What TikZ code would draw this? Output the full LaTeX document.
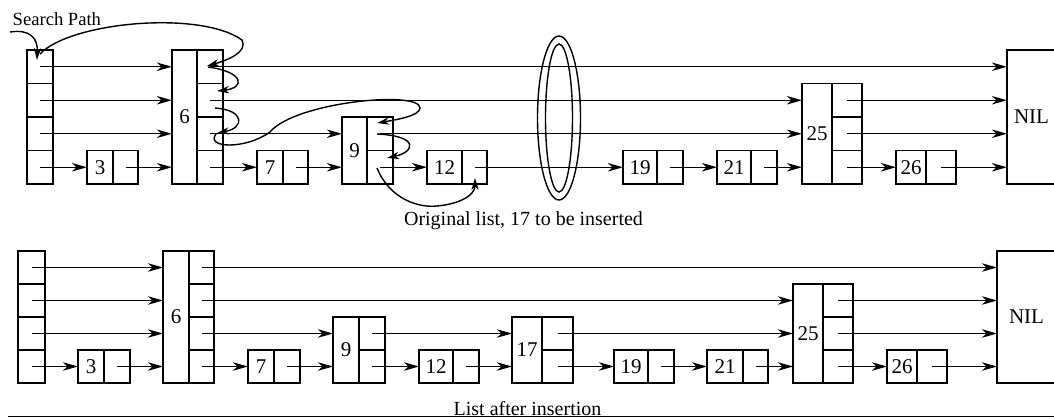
\documentclass[tikz,border=0pt]{standalone}
\usepackage{fontspec}
\setmainfont{Liberation Serif}
\usetikzlibrary{arrows.meta}
\newcommand{\lbot}{184}
\newcommand{\cellh}{33.5}
% key box + column of pointer cells
\newcommand{\tower}[6]{%
  \node[keybox, minimum width={(#3-#2)*0.5pt}, minimum height={#5*\cellh*0.5pt}] (#1) at ({(#2+#3)/2},{\lbot-#5*\cellh/2}) {#6};
  \foreach \k in {1,...,#5}
    \node[cellbox, minimum width={(#4-#3)*0.5pt}, minimum height={\cellh*0.5pt}] (#1-\k) at ({(#3+#4)/2},{\lbot-(\k-0.5)*\cellh}) {};}
\newcommand{\headcol}[3]{%
  \foreach \k in {1,...,4}
    \node[cellbox, minimum width={(#3-#2)*0.5pt}, minimum height={\cellh*0.5pt}] (#1-\k) at ({(#2+#3)/2},{\lbot-(\k-0.5)*\cellh}) {};}
\tikzset{
  keybox/.style={draw, rectangle, inner sep=0pt, outer sep=0pt, font=\fontsize{10.5pt}{12pt}\selectfont},
  cellbox/.style={draw, rectangle, inner sep=0pt, outer sep=0pt},
  ptr/.style={-{Stealth[length=7.5pt,width=4.2pt,inset=2.2pt]}},
  curv/.style={-{Stealth[length=6pt,width=3.6pt,inset=1.8pt]}},
  txt/.style={inner sep=0pt, font=\fontsize{10pt}{12pt}\selectfont}
}
\begin{document}
\begin{tikzpicture}[x=0.5pt,y=-0.5pt,line width=0.7pt]
\useasboundingbox (0,0) rectangle (1054,418);
\clip (0,0) rectangle (1054,418);
% ---- ORIGINAL LIST ----
\headcol{th}{27}{53}
\tower{t3}{87}{113}{138}{1}{3}
\tower{t6}{172}{197}{223}{4}{6}
\tower{t7}{257}{283}{308}{1}{7}
\tower{t9}{342}{367}{393}{2}{9}
\tower{t12}{427}{462}{487}{1}{12}
\tower{t19}{623}{657}{683}{1}{19}
\tower{t21}{717}{751}{777}{1}{21}
\tower{t25}{802}{832}{862}{3}{25}
\tower{t26}{896}{926}{956}{1}{26}
\node[keybox, minimum width=24.5pt, minimum height={4*\cellh*0.5pt}] (tnil) at (1031.5,117) {NIL};
\foreach \a/\b in {th-4/t6, t6-4/tnil, th-3/t6, t6-3/t25, t25-3/tnil,
    th-2/t6, t6-2/t9, t9-2/t25, t25-2/tnil,
    th-1/t3, t3-1/t6, t6-1/t7, t7-1/t9, t9-1/t12, t12-1/t19, t19-1/t21, t21-1/t25, t25-1/t26, t26-1/tnil}
  \draw[ptr] (\a.center) -- (\b.west |- \a.center);
\draw (559,118) ellipse [x radius=21.5, y radius=82];
\draw (559,118) ellipse [x radius=13.5, y radius=74];
% search path
\node[inner sep=0pt, font=\fontsize{9.3pt}{11pt}\selectfont, anchor=base west] (sp) at (12,25) {Search Path};
\coordinate (sp0) at (10,32);
\draw[curv] (sp0) .. controls (30,29) and (38,38) .. (37,60);
\draw[curv] (40,54) .. controls (70,22) and (200,10) .. (242,40) .. controls (248,52) and (228,60) .. (207,66);
\draw[curv] (208,67) .. controls (245,72) and (245,88) .. (217,91);
\draw[curv] (215,108) .. controls (245,110) and (245,128) .. (217,133);
\draw[curv] (216,134) .. controls (205,148) and (245,150) .. (270,132) .. controls (295,102) and (420,90) .. (420,108) .. controls (420,116) and (395,120) .. (377,123);
\draw[curv] (377,134) .. controls (420,136) and (415,152) .. (387,158);
\draw[curv] (377,168) .. controls (390,200) and (420,208) .. (437,206) .. controls (460,204) and (475,195) .. (475,178);
\node[txt, anchor=base] (cap1) at (523.5,225) {Original list, 17 to be inserted};
% ---- LIST AFTER INSERTION ----
\renewcommand{\lbot}{383}
\renewcommand{\cellh}{33}
\headcol{bh}{18}{45}
\tower{b3}{78}{104}{130}{1}{3}
\tower{b6}{163}{189}{214}{4}{6}
\tower{b7}{248}{274}{300}{1}{7}
\tower{b9}{333}{359}{385}{2}{9}
\tower{b12}{419}{453}{479}{1}{12}
\tower{b17}{512}{542}{573}{2}{17}
\tower{b19}{614}{648}{674}{1}{19}
\tower{b21}{707}{743}{768}{1}{21}
\tower{b25}{793}{823}{853}{3}{25}
\tower{b26}{887}{917}{947}{1}{26}
\node[keybox, minimum width=29.5pt, minimum height={4*\cellh*0.5pt}] (bnil) at (1026.5,317) {NIL};
\foreach \a/\b in {bh-4/b6, b6-4/bnil, bh-3/b6, b6-3/b25, b25-3/bnil,
    bh-2/b6, b6-2/b9, b9-2/b17, b17-2/b25, b25-2/bnil,
    bh-1/b3, b3-1/b6, b6-1/b7, b7-1/b9, b9-1/b12, b12-1/b17, b17-1/b19, b19-1/b21, b21-1/b25, b25-1/b26, b26-1/bnil}
  \draw[ptr] (\a.center) -- (\b.west |- \a.center);
\draw (8,416.5) coordinate (r0) -- (1054,416.5) coordinate (r1);
\node[txt, anchor=base] (cap2) at (527.5,415.5) {List after insertion};
\end{tikzpicture}
\end{document}
